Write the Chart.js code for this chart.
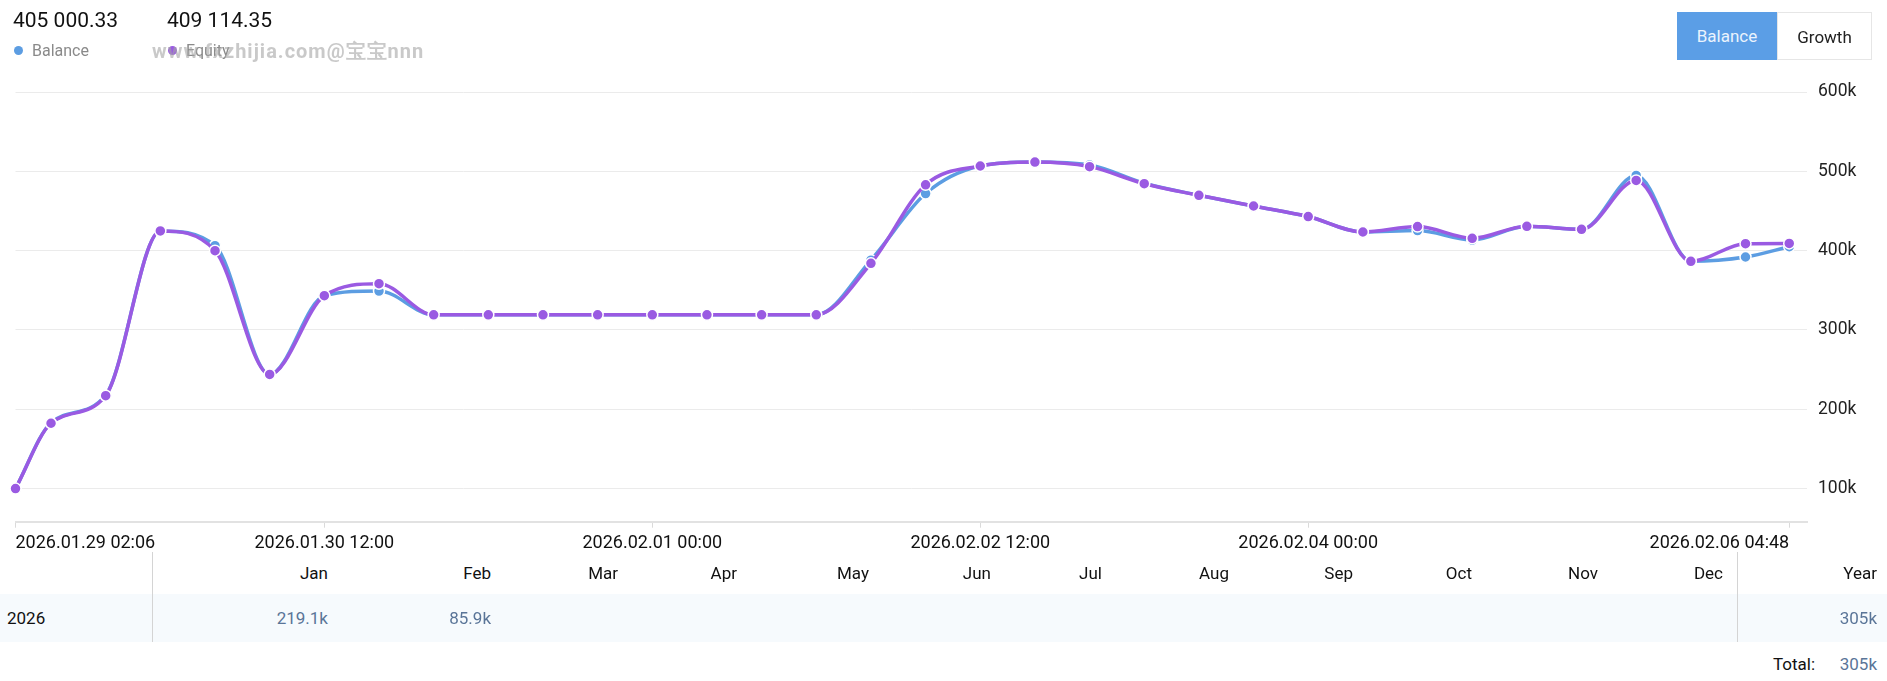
<!DOCTYPE html>
<html>
<head>
<meta charset="utf-8">
<script src="https://cdn.jsdelivr.net/npm/chart.js@4.4.1/dist/chart.umd.min.js"></script>
<style>
  body { margin: 0; width: 1887px; height: 681px; background: #fff; font-family: Roboto, "Noto Sans", sans-serif; position: relative; overflow: hidden; }
  #chartBox { position: absolute; left: 0; top: 0; width: 1887px; height: 560px; }
  .abs { position: absolute; white-space: nowrap; }
  .stat { top: 8px; font-size: 21px; line-height: 24px; color: #111; }
  .leg { top: 41px; font-size: 16px; line-height: 20px; color: #8a8a8a; padding-left: 18px; }
  .leg i { position: absolute; left: 0; top: 5px; width: 9px; height: 9px; border-radius: 50%; }
  .mark { left: 152px; top: 39px; font-size: 20px; letter-spacing: 1px; line-height: 24px; font-weight: bold; color: rgba(165,165,165,0.6); }
  .btn { top: 12px; height: 48px; line-height: 48px; font-size: 17px; text-align: center; box-sizing: border-box; }
  .cell { font-size: 17px; line-height: 20px; text-align: right; }
  .sep { position: absolute; width: 1px; top: 552px; height: 90px; background: #d4d4d4; }
</style>
</head>
<body>
<div id="chartBox"><canvas id="equityChart" width="1887" height="560"></canvas></div>
<div id="header"></div>
<div class="abs mark">www.fxzhijia.com@宝宝nnn</div>
<div class="abs btn" style="left:1677px;width:100px;background:#5b9ee6;color:#eaf3fd;">Balance</div>
<div class="abs btn" style="left:1777px;width:95px;border:1px solid #e6e6e6;color:#222;">Growth</div>
<div class="abs" style="left:0;top:594px;width:1887px;height:48px;background:#f6fafd;"></div>
<div class="sep" style="left:152px"></div>
<div class="sep" style="left:1737px"></div>
<div id="table"></div>

<script>
// time of each point
const times = [
    '2026-01-29 02:06', '2026-01-29 06:00', '2026-01-29 12:00', '2026-01-29 18:00',
    '2026-01-30 00:00', '2026-01-30 06:00', '2026-01-30 12:00', '2026-01-30 18:00',
    '2026-01-31 00:00', '2026-01-31 06:00', '2026-01-31 12:00', '2026-01-31 18:00',
    '2026-02-01 00:00', '2026-02-01 06:00', '2026-02-01 12:00', '2026-02-01 18:00',
    '2026-02-02 00:00', '2026-02-02 06:00', '2026-02-02 12:00', '2026-02-02 18:00',
    '2026-02-03 00:00', '2026-02-03 06:00', '2026-02-03 12:00', '2026-02-03 18:00',
    '2026-02-04 00:00', '2026-02-04 06:00', '2026-02-04 12:00', '2026-02-04 18:00',
    '2026-02-05 00:00', '2026-02-05 06:00', '2026-02-05 12:00', '2026-02-05 18:00',
    '2026-02-06 00:00', '2026-02-06 04:48'
];

const balance = [
    100000, 183000, 218000, 424800, 406200, 244000, 343200, 349100,
    319100, 319100, 319100, 319100, 319100, 319100, 319100, 319100,
    388000, 472000, 506700, 511700, 508000, 485000, 469800, 456300,
    443000, 423500, 425300, 413400, 430700, 426900, 494800, 386600,
    392000, 405000.33
];

const equity = [
    100000, 182400, 217100, 424800, 400000, 244000, 343200, 358300,
    319100, 319100, 319100, 319100, 319100, 319100, 319100, 319100,
    384000, 483000, 506700, 511700, 505900, 484400, 469800, 456300,
    443000, 423500, 430300, 415600, 430700, 426900, 488500, 386600,
    408800, 409114.35
];

const xTickTimes = ['2026-01-29 02:06', '2026-01-30 12:00', '2026-02-01 00:00', '2026-02-02 12:00', '2026-02-04 00:00', '2026-02-06 04:48'];
const yTicks = [100000, 200000, 300000, 400000, 500000, 600000];

// monthly results table
const months = ['Jan', 'Feb', 'Mar', 'Apr', 'May', 'Jun', 'Jul', 'Aug', 'Sep', 'Oct', 'Nov', 'Dec'];
const tableYear = '2026';
const monthResults = ['219.1k', '85.9k', '', '', '', '', '', '', '', '', '', ''];
const yearResult = '305k';
const totalResult = '305k';

function toMs(s) {
    const [d, t] = s.split(' ');
    const [Y, M, D] = d.split('-').map(Number);
    const [h, m] = t.split(':').map(Number);
    return Date.UTC(Y, M - 1, D, h, m);
}

function pad(n) { return String(n).padStart(2, '0'); }

function fmtTime(ms) {
    const d = new Date(ms);
    return d.getUTCFullYear() + '.' + pad(d.getUTCMonth() + 1) + '.' + pad(d.getUTCDate()) + ' ' +
        pad(d.getUTCHours()) + ':' + pad(d.getUTCMinutes());
}

function fmtMoney(v) {
    const [i, f] = v.toFixed(2).split('.');
    return i.replace(/\B(?=(\d{3})+(?!\d))/g, ' ') + '.' + f;
}

const BLUE = '#5c9de2';
const PURPLE = '#9a5ae2';

// header stats + legend
const header = document.getElementById('header');
header.innerHTML = `
    <div class="abs stat" style="left:13px">${fmtMoney(balance[balance.length - 1])}</div>
    <div class="abs stat" style="left:167px">${fmtMoney(equity[equity.length - 1])}</div>
    <div class="abs leg" style="left:14px"><i style="background:${BLUE}"></i>Balance</div>
    <div class="abs leg" style="left:168px"><i style="background:${PURPLE}"></i>Equity</div>
`;

// table below the chart
const colRight = [328, 491, 618, 737, 869, 991, 1102, 1229, 1353, 1472, 1598, 1723];
let html = '';
months.forEach((m, i) => {
    const r = 1887 - colRight[i];
    html += `<div class="abs cell" style="right:${r}px;top:563px;color:#111">${m}</div>`;
    if (monthResults[i]) {
        html += `<div class="abs cell" style="right:${r}px;top:608px;color:#5a7598">${monthResults[i]}</div>`;
    }
});
html += `<div class="abs cell" style="right:10px;top:563px;color:#111">Year</div>`;
html += `<div class="abs cell" style="left:7px;top:608px;color:#111;text-align:left">${tableYear}</div>`;
html += `<div class="abs cell" style="right:10px;top:608px;color:#5a7598">${yearResult}</div>`;
html += `<div class="abs cell" style="right:72px;top:654px;color:#111">Total:</div>`;
html += `<div class="abs cell" style="right:10px;top:654px;color:#5a7598">${totalResult}</div>`;
document.getElementById('table').innerHTML = html;

const xs = times.map(toMs);

function series(values) {
    return values.map((v, i) => ({ x: xs[i], y: v }));
}

const ctx = document.getElementById('equityChart').getContext('2d');
new Chart(ctx, {
    type: 'line',
    data: {
        datasets: [{
            label: 'Equity',
            data: series(equity),
            borderColor: PURPLE,
            backgroundColor: PURPLE,
            pointBackgroundColor: PURPLE,
            pointBorderColor: '#ffffff',
            order: 0
        }, {
            label: 'Balance',
            data: series(balance),
            borderColor: BLUE,
            backgroundColor: BLUE,
            pointBackgroundColor: BLUE,
            pointBorderColor: '#ffffff',
            order: 1
        }]
    },
    options: {
        responsive: false,
        devicePixelRatio: 1,
        animation: false,
        layout: { padding: { left: 15.5, top: 92, right: 10, bottom: 8.3 } },
        elements: {
            line: { borderWidth: 3.5, cubicInterpolationMode: 'monotone' },
            point: { radius: 5.5, borderWidth: 1.5, hoverRadius: 5.5 }
        },
        datasets: { line: { clip: false } },
        plugins: {
            legend: { display: false },
            tooltip: { enabled: false }
        },
        scales: {
            x: {
                type: 'linear',
                min: xs[0],
                max: xs[xs.length - 1] + 1.95 * 3600e3,
                afterBuildTicks: s => { s.ticks = xTickTimes.map(t => ({ value: toMs(t) })); },
                afterFit: s => { s.height = 30; },
                ticks: {
                    autoSkip: false,
                    maxRotation: 0,
                    align: 'inner',
                    padding: 5,
                    color: '#111',
                    font: { family: 'Roboto', size: 18 },
                    callback: v => fmtTime(v)
                },
                grid: { drawOnChartArea: false, tickLength: 6, tickColor: '#dadada' },
                border: { color: '#e2e2e2', width: 2 }
            },
            y: {
                position: 'right',
                min: 58300,
                max: 600000,
                afterBuildTicks: s => { s.ticks = yTicks.map(v => ({ value: v })); },
                afterFit: s => { s.width = 70; },
                ticks: {
                    padding: 11,
                    color: '#222',
                    font: { family: 'Roboto', size: 17.5 },
                    callback: v => (v / 1000) + 'k'
                },
                grid: { color: '#ebebeb', drawTicks: false },
                border: { display: false }
            }
        }
    }
});
</script>
</body>
</html>
